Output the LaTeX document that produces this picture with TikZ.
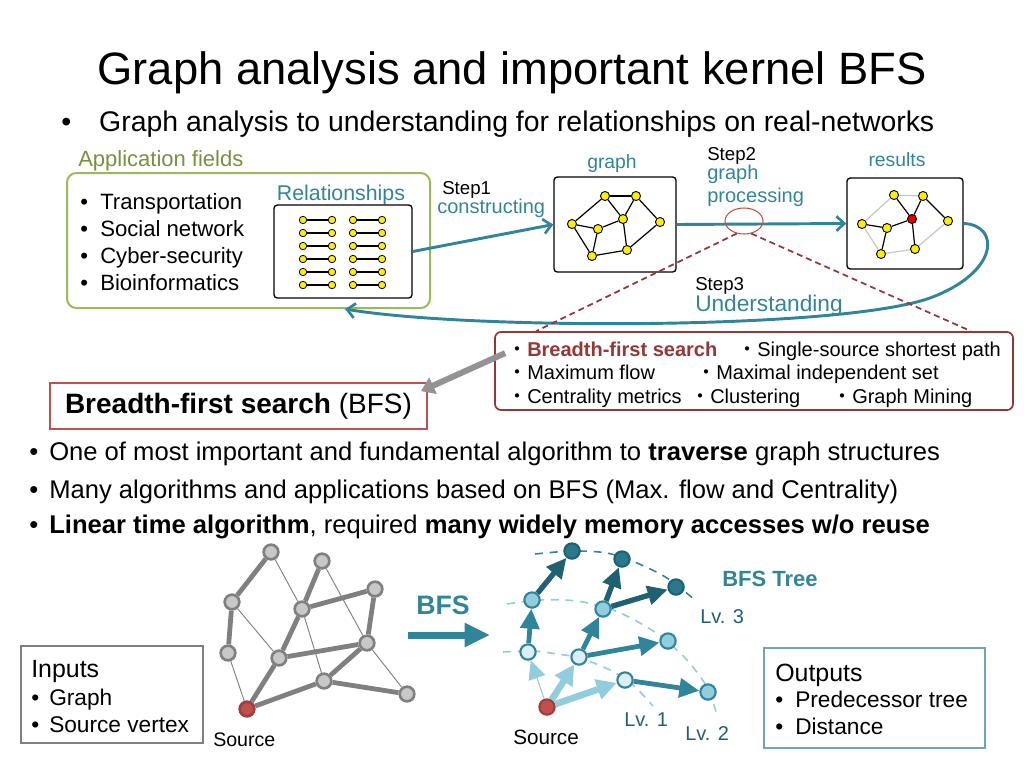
\documentclass[tikz,border=0pt]{standalone}
\usepackage{fontspec}
\setmainfont{Liberation Sans}
\newfontfamily\cjkfont{Noto Sans CJK JP}
\usepackage{xcolor}
\usepackage{tikz}
\usetikzlibrary{arrows.meta,positioning,shapes.geometric,calc}

\definecolor{tealc}{RGB}{49,133,155}
\definecolor{tealdark}{RGB}{31,97,114}
\definecolor{tealpale}{RGB}{146,205,221}
\definecolor{tealfaint}{RGB}{219,238,244}
\definecolor{appgreen}{RGB}{155,187,89}
\definecolor{apptext}{RGB}{118,146,60}
\definecolor{algred}{RGB}{149,55,53}
\definecolor{bfsred}{RGB}{192,80,77}
\definecolor{ynode}{RGB}{255,238,0}
\definecolor{gfill}{RGB}{200,200,200}
\definecolor{gline}{RGB}{128,128,128}
\definecolor{outblue}{RGB}{110,165,185}

\newcommand\fsz[1]{\fontsize{#1}{#1}\selectfont}
\newcommand\kdot{{\cjkfont ・}}

\begin{document}
\begin{tikzpicture}[x=0.75pt, y=-0.75pt,
  txt/.style={anchor=base west, inner sep=0pt},
  ctxt/.style={anchor=base, inner sep=0pt},
  frame/.style={draw=black, rounded corners=2.5pt, line width=1pt, inner sep=0pt},
  rdot/.style={circle, draw=black, line width=0.6pt, fill=ynode, inner sep=0pt, minimum size=5.6pt},
  ydot/.style={circle, draw=black, line width=0.7pt, fill=ynode, inner sep=0pt, minimum size=6.8pt},
  gnode/.style={circle, draw=gline, fill=gfill, line width=2pt, inner sep=0pt, minimum size=11pt},
  tnode/.style={circle, draw=tealc, line width=1.6pt, inner sep=0pt, minimum size=11.5pt},
  stepline/.style={draw=tealc, line width=2.2pt, -{Straight Barb[length=6pt,width=11pt,line width=2pt]}},
  reddash/.style={draw=algred, line width=1.3pt, dash pattern=on 4.5pt off 3pt},
  lvarc/.style={line width=1.2pt, dash pattern=on 6pt off 5pt}]
\useasboundingbox (0,0) rectangle (1024,768);
% --- title ---
\node[ctxt, font=\fsz{34}] (title) at (512,84) {Graph analysis and important kernel BFS};
\node[txt, font=\fsz{21.3}] (sub) at (61,131)
  {\makebox[28.5pt][l]{•}Graph analysis to understanding for relationships on real-networks};
% --- application fields ---
\node[txt, font=\fsz{16.5}, text=apptext] (applabel) at (78,166) {Application fields};
\node[draw=appgreen, line width=1.5pt, rounded corners=7pt, minimum width=272.25pt,
  minimum height=101.25pt] (appbox) at (248.5,240.5) {};
\foreach \n/\y/\t in {f1/209/Transportation, f2/236/Social network,
                      f3/263/Cyber-security, f4/290/Bioinformatics}
  \node[txt, font=\fsz{16.6}] (\n) at (80,\y) {\makebox[15pt][l]{•}\t};
\node[ctxt, font=\fsz{16}, text=tealc] (rellabel) at (341,200) {Relationships};
\node[frame, minimum width=103.5pt, minimum height=69.75pt] (relbox) at (343,251.5) {};
\foreach \r/\y in {1/220,2/233,3/246,4/259,5/272,6/285} {
  \node[rdot] (la\r) at (303,\y) {};
  \node[rdot] (lb\r) at (332,\y) {};
  \node[rdot] (ra\r) at (353,\y) {};
  \node[rdot] (rb\r) at (382,\y) {};
  \draw[line width=0.9pt] (la\r) -- (lb\r);
  \draw[line width=0.9pt] (ra\r) -- (rb\r);
}
% --- graph ---
\node[ctxt, font=\fsz{14.5}, text=tealc] (graphlabel) at (612,168) {graph};
\node[frame, minimum width=91.5pt, minimum height=71.25pt] (graphbox) at (615,224.5) {};
\foreach \n/\x/\y in {g1/572/224, g2/605/196, g3/636/196, g4/623/219,
                      g5/598/229, g6/660/222, g7/592/256, g8/627/250}
  \node[ydot] (\n) at (\x,\y) {};
\foreach \a/\b in {g1/g2, g2/g3, g2/g4, g3/g4, g3/g6, g4/g5,
                   g1/g5, g1/g7, g5/g7, g4/g8, g7/g8, g6/g8}
  \draw[line width=0.9pt] (\a) -- (\b);
% --- results ---
\node[ctxt, font=\fsz{14.5}, text=tealc] (reslabel) at (897,166) {results};
\node[frame, minimum width=87pt, minimum height=68.25pt] (resbox) at (905,223.5) {};
\foreach \n/\x/\y in {r1/894/195, r2/923/196, r3/948/221, r4/862/224,
                      r5/887/228, r6/881/254, r7/915/249}
  \node[ydot] (\n) at (\x,\y) {};
\node[ydot, fill=red!90!black] (rc) at (912,219) {};
\foreach \a/\b in {r1/r2, r1/r4, r4/r6, r6/r7, r7/r3}
  \draw[black!22, line width=0.9pt] (\a) -- (\b);
\foreach \a/\b in {r1/rc, r2/rc, r2/r3, rc/r5, r4/r5, r5/r6, rc/r7}
  \draw[line width=0.9pt] (\a) -- (\b);
% --- steps ---
\node[txt, font=\fsz{14}] (step1) at (442,194) {Step1};
\node[txt, font=\fsz{15}, text=tealc] (step1b) at (437,213) {constructing};
\node[txt, font=\fsz{14}] (step2) at (707,160) {Step2};
\node[txt, font=\fsz{15}, text=tealc] (step2b) at (707,179) {graph};
\node[txt, font=\fsz{15}, text=tealc] (step2c) at (707,202) {processing};
\node[txt, font=\fsz{14}] (step3) at (695,290) {Step3};
\node[txt, font=\fsz{17}, text=tealc] (step3b) at (695,311) {Understanding};
\draw[stepline] (relbox.east) -- (graphbox.west);
\draw[stepline] (graphbox.east) -- (resbox.west);
\coordinate (back) at ($(appbox.south)+(96.5,0)$);
\draw[stepline] (resbox.east) .. controls (1000,225) and (1000,272) .. (930,298)
  .. controls (840,330) and (470,330) .. (back);
\node[ellipse, draw=bfsred, line width=0.8pt, minimum width=28.5pt,
  minimum height=19.5pt, inner sep=0pt] (ell) at (744,221) {};
% --- kernels ---
\node[draw=algred, line width=1.3pt, rounded corners=4.5pt, fill=white,
  minimum width=388.5pt, minimum height=58.5pt] (algbox) at (754,371) {};
\draw[reddash] (ell.240) -- ($(algbox.north west)+(42,0)$);
\draw[reddash] (ell.300) -- ($(algbox.north east)+(-43,0)$);
\node[txt, font=\fsz{15}] (k1) at (507,356) {\kdot\textcolor{algred}{\textbf{Breadth-first search}}};
\node[txt, font=\fsz{15}] (k2) at (737,356) {\kdot Single-source shortest path};
\node[txt, font=\fsz{15}] (k3) at (507,379) {\kdot Maximum flow};
\node[txt, font=\fsz{15}] (k4) at (696,379) {\kdot Maximal independent set};
\node[txt, font=\fsz{15}] (k5) at (507,403) {\kdot Centrality metrics};
\node[txt, font=\fsz{15}] (k6) at (690,403) {\kdot Clustering};
\node[txt, font=\fsz{15}] (k7) at (832,403) {\kdot Graph Mining};
% --- BFS ---
\node[draw=bfsred, line width=1.3pt, minimum width=282.75pt, minimum height=34.5pt,
  font=\fsz{21}] (bfsbox) at (238.5,406) {\textbf{Breadth-first search} (BFS)};
\draw[gline!85, line width=4.5pt, -{Triangle[length=10pt,width=13pt]}]
  ($(algbox.north west)+(11,22)$) -- ($(bfsbox.north east)+(-7,9)$);
\node[txt, font=\fsz{19.2}] (b1) at (29,460)
  {\makebox[15pt][l]{•}One of most important and fundamental algorithm to \textbf{traverse} graph structures};
\node[txt, font=\fsz{19.2}] (b2) at (29,498)
  {\makebox[15pt][l]{•}Many algorithms and applications based on BFS (Max. flow and Centrality)};
\node[txt, font=\fsz{19.2}] (b3) at (29,533)
  {\makebox[15pt][l]{•}\textbf{Linear time algorithm}, required \textbf{many widely memory accesses w/o reuse}};
% --- input graph ---
\foreach \n/\x/\y in {A/271/552, B/322/561, C/232/602, D/302/609, E/375/589,
                      F/228/653, G/279/658, H/367/643, I/324/681, J/407/694}
  \node[gnode] (\n) at (\x,\y) {};
\node[gnode, draw=bfsred!80!black, fill=bfsred] (S) at (247,709) {};
\foreach \a/\b in {A/C, C/F, B/D, D/E, E/H, D/G, G/H, G/S, S/I, I/H, I/J}
  \draw[gline, line width=3.6pt] (\a) -- (\b);
\foreach \a/\b in {A/D, C/G, B/H, D/I, F/S, H/J}
  \draw[gline, line width=0.7pt] (\a) -- (\b);
\node[txt, font=\fsz{14.7}] (srcl) at (213,746) {Source};
% --- BFS arrow ---
\node[ctxt, font=\fsz{20}\bfseries, text=tealc] (bfsl) at (443,614) {BFS};
\coordinate (bfsfrom) at (408,635);
\coordinate (bfsto) at (490,635);
\draw[tealc, line width=5.25pt, -{Triangle[length=19pt,width=17pt]}] (bfsfrom) -- (bfsto);
% --- BFS tree ---
\draw[lvarc, tealpale] plot[smooth] coordinates {(503,652) (533,651) (557,654)
  (580,658) (610,670) (633,685) (653,706)};
\draw[lvarc, tealpale] plot[smooth] coordinates {(507,604) (540,600) (577,601)
  (613,610) (640,623) (663,638) (687,660) (707,687) (717,715)};
\draw[lvarc, tealc] plot[smooth] coordinates {(535,554) (572,551) (607,553)
  (637,563) (667,578) (695,600)};
\foreach \n/\x/\y in {a1/528/652, a2/579/657, a3/625/680}
  \node[tnode, fill=tealfaint] (\n) at (\x,\y) {};
\foreach \n/\x/\y in {b1/532/600, b2/603/609, b3/668/641, b4/708/692}
  \node[tnode, fill=tealpale] (\n) at (\x,\y) {};
\foreach \n/\x/\y in {c1/572/551, c2/622/559, c3/676/587}
  \node[tnode, draw=tealdark, fill=tealc!90!black] (\n) at (\x,\y) {};
\node[tnode, draw=bfsred!80!black, fill=bfsred] (src) at (547,707) {};
\draw[tealpale, line width=0.8pt, -{Triangle[length=14pt,width=13pt]}] (src) -- (a1);
\foreach \a/\b in {src/a2, src/a3}
  \draw[tealpale, line width=5pt, -{Triangle[length=15pt,width=15pt]}] (\a) -- (\b);
\foreach \a/\b in {a1/b1, a2/b2, a2/b3, a3/b4}
  \draw[tealc, line width=3.6pt, -{Triangle[length=15pt,width=14pt]}] (\a) -- (\b);
\foreach \a/\b in {b1/c1, b2/c2, b2/c3}
  \draw[tealdark, line width=4pt, -{Triangle[length=15pt,width=14pt]}] (\a) -- (\b);
\node[txt, font=\fsz{15.5}] (srcr) at (513,744) {Source};
\node[txt, font=\fsz{15}, text=tealdark] (lv1) at (624,726) {Lv. 1};
\node[txt, font=\fsz{15}, text=tealdark] (lv2) at (685,740) {Lv. 2};
\node[txt, font=\fsz{15}, text=tealdark] (lv3) at (700,623) {Lv. 3};
\node[txt, font=\fsz{16.5}\bfseries, text=tealc] (treel) at (722,586) {BFS Tree};
% --- inputs / outputs ---
\node[draw=gline, line width=0.8pt, minimum width=136.5pt, minimum height=72.75pt] (inbox) at (112,694.5) {};
\node[txt, font=\fsz{18.7}] (in1) at (31,677) {Inputs};
\node[txt, font=\fsz{17}] (in2) at (31,705) {\makebox[13.5pt][l]{•}Graph};
\node[txt, font=\fsz{17}] (in3) at (31,732) {\makebox[13.5pt][l]{•}Source vertex};
\node[draw=outblue, line width=0.8pt, minimum width=165.75pt, minimum height=75pt] (outbox) at (874.5,698) {};
\node[txt, font=\fsz{18.7}] (out1) at (775,681) {Outputs};
\node[txt, font=\fsz{17}] (out2) at (775,707) {\makebox[15pt][l]{•}Predecessor tree};
\node[txt, font=\fsz{17}] (out3) at (775,734) {\makebox[15pt][l]{•}Distance};
\end{tikzpicture}
\end{document}
